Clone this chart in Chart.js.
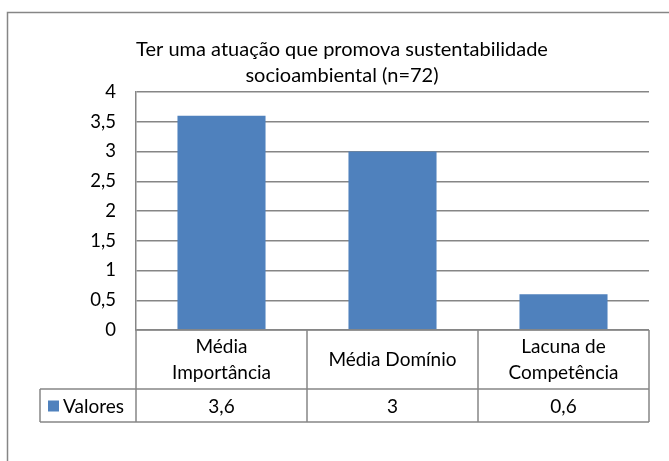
<!DOCTYPE html>
<html>
<head>
<meta charset="utf-8">
<script src="https://cdn.jsdelivr.net/npm/chart.js@4.4.1/dist/chart.umd.min.js"></script>
<style>
  html, body { margin: 0; padding: 0; background: #fff; }
  #wrap { width: 669px; height: 461px; }
</style>
</head>
<body>
<div id="wrap"><canvas id="chart" width="669" height="461"></canvas></div>
<script>
// data
const titleLines = ['Ter uma atuação que promova sustentabilidade', 'socioambiental (n=72)'];
const categories = [['Média', 'Importância'], ['Média Domínio'], ['Lacuna de', 'Competência']];
const seriesName = 'Valores';
const values = [3.6, 3, 0.6];
const yTicks = [0, 0.5, 1, 1.5, 2, 2.5, 3, 3.5, 4];

const FONT = 'Lato, "Open Sans", sans-serif';
const LINE = '#868686';
const BLUE = '#4F81BD';

const fmt = v => String(v).replace('.', ',');

// frame + data table under the plot, positioned from the x scale
const tablePlugin = {
  id: 'dataTable',
  beforeDraw(chart) {
    const ctx = chart.ctx;
    ctx.save();
    ctx.fillStyle = '#fff';
    ctx.fillRect(0, 0, chart.width, chart.height);
    ctx.strokeStyle = LINE;
    ctx.lineWidth = 1.5;
    ctx.beginPath();
    ctx.moveTo(7.5, chart.height);
    ctx.lineTo(7.5, 12.5);
    ctx.lineTo(chart.width, 12.5);
    ctx.stroke();
    ctx.restore();
  },
  afterDraw(chart) {
    const ctx = chart.ctx;
    const x = chart.scales.x;
    const area = chart.chartArea;
    const colW = x.width / categories.length;
    const top = area.bottom;
    const mid = top + 59;
    const bot = mid + 33;
    const legLeft = 40;

    ctx.save();
    ctx.strokeStyle = LINE;
    ctx.lineWidth = 1.5;
    ctx.beginPath();
    ctx.moveTo(area.left, top); ctx.lineTo(area.right, top);
    ctx.moveTo(legLeft, mid); ctx.lineTo(area.right, mid);
    ctx.moveTo(legLeft, bot); ctx.lineTo(area.right, bot);
    ctx.moveTo(legLeft, mid); ctx.lineTo(legLeft, bot);
    for (let i = 0; i <= categories.length; i++) {
      const px = area.left + i * colW;
      ctx.moveTo(px, top); ctx.lineTo(px, bot);
    }
    ctx.stroke();

    ctx.fillStyle = '#000';
    ctx.font = '19px ' + FONT;
    ctx.textAlign = 'center';
    ctx.textBaseline = 'middle';
    categories.forEach((lines, i) => {
      const cx = x.getPixelForValue(i);
      const lh = 26;
      const y0 = (top + mid) / 2 - (lines.length - 1) * lh / 2;
      lines.forEach((t, j) => ctx.fillText(t, cx, y0 + j * lh));
      ctx.fillText(fmt(values[i]), cx, (mid + bot) / 2 + 1);
    });

    // legend key
    ctx.fillStyle = BLUE;
    ctx.fillRect(48, (mid + bot) / 2 - 5, 11, 11);
    ctx.fillStyle = '#000';
    ctx.textAlign = 'left';
    ctx.fillText(seriesName, 63, (mid + bot) / 2 + 1);
    ctx.restore();
  }
};

new Chart(document.getElementById('chart'), {
  type: 'bar',
  data: {
    labels: categories,
    datasets: [{
      label: seriesName,
      data: values,
      backgroundColor: BLUE,
      borderWidth: 0,
      categoryPercentage: 1,
      barPercentage: 0.515
    }]
  },
  options: {
    responsive: false,
    animation: false,
    layout: { padding: { top: 30, left: 35, right: 20, bottom: 0 } },
    plugins: {
      legend: { display: false },
      tooltip: { enabled: false },
      title: {
        display: true,
        text: titleLines,
        color: '#000',
        font: { family: FONT, size: 20, weight: 'normal', lineHeight: 1.3 },
        padding: { top: 7, bottom: 3 }
      }
    },
    scales: {
      x: {
        grid: { display: false },
        border: { display: false },
        ticks: { display: false },
        afterFit(s) { s.height = 131; }
      },
      y: {
        min: 0,
        max: 4,
        afterBuildTicks(s) { s.ticks = yTicks.map(v => ({ value: v })); },
        grid: { color: LINE, lineWidth: 1.5, tickLength: 0 },
        border: { display: true, color: LINE, width: 1.5 },
        ticks: {
          color: '#000',
          font: { family: FONT, size: 18.5 },
          padding: 20,
          callback: v => fmt(v)
        },
        afterFit(s) { s.width = 101; }
      }
    }
  },
  plugins: [tablePlugin]
});
</script>
</body>
</html>
